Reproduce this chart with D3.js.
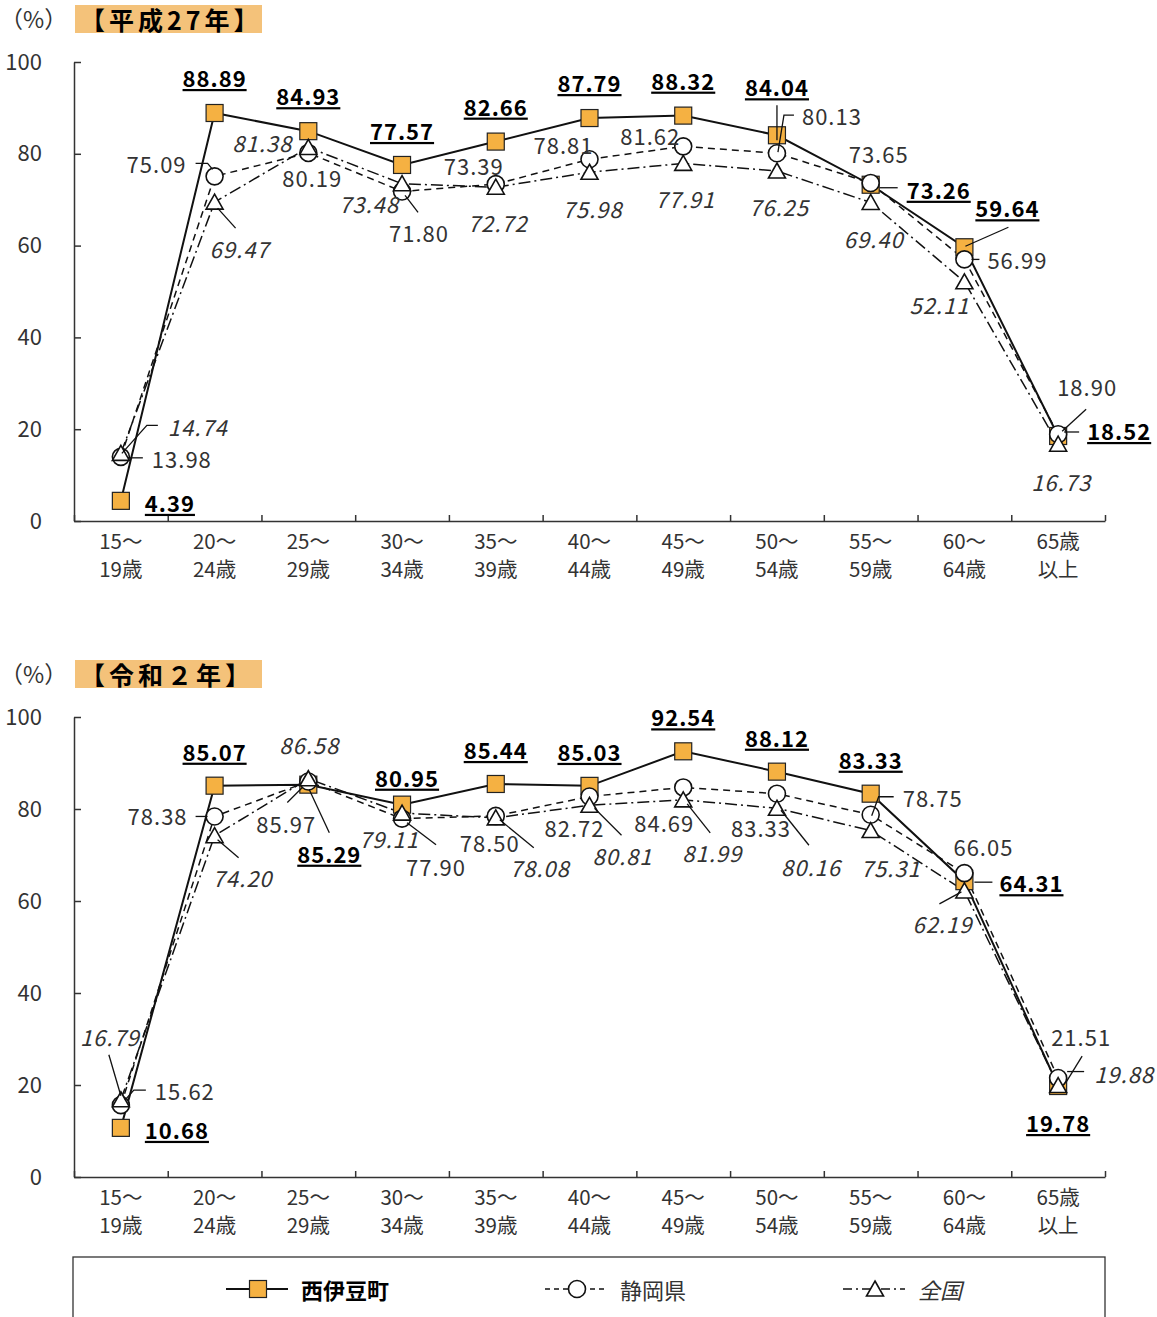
<!DOCTYPE html>
<html>
<head>
<meta charset="utf-8">
<script src="https://cdn.jsdelivr.net/npm/d3@7"></script>
<style>
  body { margin: 0; background: #fff; }
  text { font-family: "Noto Sans CJK JP", "Noto Sans", sans-serif; }
</style>
</head>
<body>
<script>
// categories (two lines each)
var categories = ["15～\n19歳", "20～\n24歳", "25～\n29歳", "30～\n34歳", "35～\n39歳",
    "40～\n44歳", "45～\n49歳", "50～\n54歳", "55～\n59歳", "60～\n64歳", "65歳\n以上"];
var seriesNames = ["西伊豆町", "静岡県", "全国"];
var yTicks = [0, 20, 40, 60, 80, 100];

// 平成27年
var townH27 = [4.39, 88.89, 84.93, 77.57, 82.66, 87.79, 88.32, 84.04, 73.26, 59.64, 18.52];
var prefH27 = [13.98, 75.09, 80.19, 71.80, 73.39, 78.81, 81.62, 80.13, 73.65, 56.99, 18.90];
var natH27  = [14.74, 69.47, 81.38, 73.48, 72.72, 75.98, 77.91, 76.25, 69.40, 52.11, 16.73];

// 令和2年
var townR2 = [10.68, 85.07, 85.29, 80.95, 85.44, 85.03, 92.54, 88.12, 83.33, 64.31, 19.78];
var prefR2 = [15.62, 78.38, 85.97, 77.90, 78.50, 82.72, 84.69, 83.33, 78.75, 66.05, 21.51];
var natR2  = [16.79, 74.20, 86.58, 79.11, 78.08, 80.81, 81.99, 80.16, 75.31, 62.19, 19.88];

// label placement relative to each marker: [dx, dy, anchor, leader points]
var labTownH27 = [[24,1,"start"],[0,-36],[0,-36],[0,-35],[0,-36],[0,-36],[0,-36],
    [0,-49,"middle",[[0,-30],[0,5]]],[36,4,"start",[[9,3],[27,3]]],
    [43,-40,"middle",[[44,-20],[1,-1]]],[29,-6,"start",[[6,-4],[21,-4]]]];
var labPrefH27 = [[31,1,"start",[[7,1],[22,1]]],[-28,-13,"end",[[-19,-13],[-7,-13],[-2,-7]]],
    [4,24],[17,41,"middle",[[3,4],[16,21]]],[-22,-19],[-26,-15],[-33,-11],
    [25,-38,"start",[[17,-38],[7,-38],[1,-1]]],[8,-30],[23,0,"start",[[7,0],[15,0]]],
    [29,-48,"middle",[[4,-3],[28,-25]]]];
var labNatH27 = [[47,-27,"start",[[37,-28],[26,-28],[1,0]]],[25,46,"middle",[[3,6],[21,26]]],
    [-46,-5],[-33,19],[2,35],[3,36],[2,35],[2,35],[3,36],[-25,22],[3,37]];

var labTownR2 = [[24,1,"start"],[0,-35],[21,68,"middle",[[1,5],[21,48]]],[5,-28],[0,-35],[0,-35],
    [0,-35],[0,-35],[0,-35],[35,1,"start",[[10,1],[28,1]]],[0,36]];
var labPrefR2 = [[34,-15,"start",[[4,-5],[13,-15],[25,-15]]],[-57,-1,"middle",[[-19,0],[-7,0]]],
    [-22,41,"middle",[[-21,21],[-6,6]]],[34,47,"middle",[[5,4],[34,26]]],[-6,26],[-15,31],
    [-19,35],[-16,33],[32,-18,"start",[[1,1],[8,-18],[23,-18]]],[19,-27],
    [23,-42,"middle",[[8,4],[24,-22]]]];
var labNatR2 = [[-11,-64,"middle",[[-12,-45],[0,-4]]],[28,41,"middle",[[3,4],[24,22]]],[1,-35],
    [-13,25],[44,49,"middle",[[4,2],[38,30]]],[33,50,"middle",[[5,3],[32,30]]],
    [29,52,"middle",[[4,4],[27,33]]],[34,58,"middle",[[4,2],[32,37]]],[20,36],
    [-22,32,"middle",[[-25,13],[-3,1]]],[36,-13,"start",[[9,-14],[26,-14]]]];

var W = 1157, H = 1317;
var svg = d3.select("body").append("svg")
    .attr("width", W)
    .attr("height", H);

var left = 74, right = 1105;
var x = d3.scaleBand().domain(categories).range([left, right]).padding(0);
var xb = d3.scaleLinear().domain([0, categories.length]).range([left, right]);
var cx = function(i) { return x(categories[i]) + x.bandwidth() / 2; };

var ORANGE = "#f5b142";
var styles = [
    {dash: null, width: 2, label: {weight: "bold", fill: "#000", style: "normal", underline: true}},
    {dash: "7,5", width: 1.5, label: {weight: "normal", fill: "#333", style: "normal"}},
    {dash: "12,4,2,4", width: 1.5, label: {weight: "normal", fill: "#333", style: "italic"}}
];

function marker(g, k, px, py) {
    if (k == 0) {
        g.append("rect").attr("x", px - 8.5).attr("y", py - 8.5)
            .attr("width", 17).attr("height", 17)
            .attr("fill", ORANGE).attr("stroke", "#222").attr("stroke-width", 1.2);
    } else if (k == 1) {
        g.append("circle").attr("cx", px).attr("cy", py).attr("r", 8.5)
            .attr("fill", "#fff").attr("stroke", "#111").attr("stroke-width", 1.6);
    } else {
        g.append("path").attr("transform", "translate(" + px + "," + py + ")")
            .attr("d", "M0,-8L8.5,7L-8.5,7Z")
            .attr("fill", "#fff").attr("stroke", "#111").attr("stroke-width", 1.6);
    }
}

function drawPanel(top, bottom, title, series, labels) {
    var y = d3.scaleLinear().domain([0, 100]).range([bottom, top]);

    // header
    svg.append("text").attr("x", 0).attr("y", top - 44)
        .attr("dominant-baseline", "central")
        .attr("font-size", 23).attr("fill", "#333").text("（%）");
    svg.append("rect").attr("x", 75).attr("y", top - 57).attr("width", 187).attr("height", 28)
        .attr("fill", "#f4c27a");
    svg.append("text").attr("x", 80).attr("y", top - 43)
        .attr("dominant-baseline", "central")
        .attr("font-size", 25).attr("letter-spacing", 4)
        .attr("font-weight", "bold").attr("fill", "#000").text(title);

    // y axis
    var ya = svg.append("g").attr("transform", "translate(" + left + ",0)")
        .call(d3.axisLeft(y).tickValues(yTicks).tickSize(-7).tickSizeOuter(0).tickPadding(32));
    ya.selectAll("path,line").attr("stroke", "#333").attr("stroke-width", 1.5);
    ya.selectAll("text").attr("font-size", 22).attr("fill", "#333")
        .attr("font-family", "'Noto Sans CJK JP', sans-serif");

    // x axis: ticks at band boundaries
    var xa = svg.append("g").attr("transform", "translate(0," + bottom + ")")
        .call(d3.axisBottom(xb).tickValues(d3.range(categories.length + 1))
            .tickSize(-6).tickSizeOuter(0).tickFormat(""));
    xa.selectAll("path,line").attr("stroke", "#333").attr("stroke-width", 1.5);

    categories.forEach(function(c, i) {
        var parts = c.split("\n");
        parts.forEach(function(p, j) {
            svg.append("text").attr("x", cx(i)).attr("y", bottom + 19 + j * 28)
                .attr("text-anchor", "middle").attr("dominant-baseline", "central")
                .attr("font-size", 20.5).attr("fill", "#333").text(p);
        });
    });

    // lines
    series.forEach(function(vals, k) {
        var line = d3.line().x(function(d, i) { return cx(i); }).y(function(d) { return y(d); });
        svg.append("path").datum(vals)
            .attr("d", line)
            .attr("fill", "none")
            .attr("stroke", "#111")
            .attr("stroke-width", styles[k].width)
            .attr("stroke-dasharray", styles[k].dash);
    });

    // markers
    series.forEach(function(vals, k) {
        var g = svg.append("g");
        vals.forEach(function(v, i) { marker(g, k, cx(i), y(v)); });
    });

    // value labels + leaders
    series.forEach(function(vals, k) {
        var st = styles[k].label;
        vals.forEach(function(v, i) {
            var L = labels[k][i];
            var px = cx(i), py = y(v);
            if (L[3]) {
                svg.append("path")
                    .attr("d", d3.line()(L[3].map(function(p) { return [px + p[0], py + p[1]]; })))
                    .attr("fill", "none").attr("stroke", "#111").attr("stroke-width", 1.3);
            }
            svg.append("text")
                .attr("x", px + L[0]).attr("y", py + L[1])
                .attr("text-anchor", L[2] || "middle")
                .attr("dominant-baseline", "central")
                .attr("font-size", 22)
                .attr("letter-spacing", 1)
                .attr("font-weight", st.weight)
                .attr("font-style", st.style)
                .attr("fill", st.fill)
                .style("text-decoration", st.underline ? "underline" : null)
                .text(v.toFixed(2));
        });
    });
}

drawPanel(62, 521, "【平成27年】", [townH27, prefH27, natH27], [labTownH27, labPrefH27, labNatH27]);
drawPanel(717, 1177, "【令和２年】", [townR2, prefR2, natR2], [labTownR2, labPrefR2, labNatR2]);

// legend
svg.append("rect").attr("x", 73).attr("y", 1257).attr("width", 1032).attr("height", 100)
    .attr("fill", "none").attr("stroke", "#333").attr("stroke-width", 1.3);
var legX = [226, 545, 843];
seriesNames.forEach(function(name, k) {
    var g = svg.append("g");
    g.append("line").attr("x1", legX[k]).attr("x2", legX[k] + 62)
        .attr("y1", 1289).attr("y2", 1289)
        .attr("stroke", "#111").attr("stroke-width", styles[k].width)
        .attr("stroke-dasharray", k == 1 ? "5,4" : (k == 2 ? "9,4,2,4" : null));
    marker(g, k, legX[k] + 32, 1289);
    g.append("text").attr("x", legX[k] + 75).attr("y", 1289)
        .attr("dominant-baseline", "central").attr("font-size", 22)
        .attr("font-weight", k == 0 ? "bold" : "normal")
        .attr("font-style", k == 2 ? "italic" : "normal")
        .attr("fill", k == 0 ? "#000" : "#333")
        .text(name);
});
</script>
</body>
</html>
